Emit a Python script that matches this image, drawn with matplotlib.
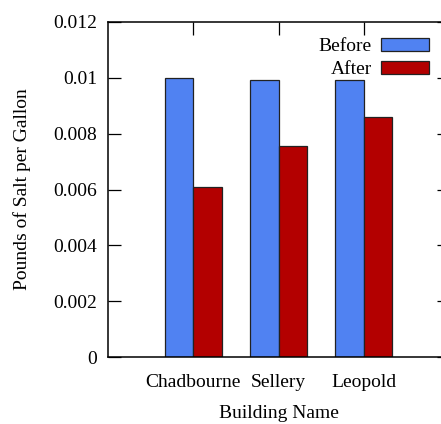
import matplotlib
matplotlib.use("Agg")
import matplotlib.pyplot as plt
import numpy as np

categories = ["Chadbourne", "Sellery", "Leopold"]
before = [0.0100, 0.00992, 0.00993]
after = [0.00608, 0.00756, 0.00858]
series_names = ["Before", "After"]
yticks = [0, 0.002, 0.004, 0.006, 0.008, 0.01, 0.012]
ytick_labels = ["0", "0.002", "0.004", "0.006", "0.008", "0.01", "0.012"]

plt.rcParams['font.family'] = ['Liberation Serif', 'DejaVu Serif']

W, H = 441, 424
fig = plt.figure(figsize=(W / 100, H / 100), dpi=100)
left, right, top, bottom = 108, 449, 22, 357
ax = fig.add_axes([left / W, (H - bottom) / H, (right - left) / W, (bottom - top) / H])

x = np.arange(len(categories))
bw = 1 / 3
blue = '#5082F2'
red = '#B30000'
ax.bar(x - bw / 2, before, width=bw, color=blue, edgecolor='#222222', linewidth=0.9, label=series_names[0])
ax.bar(x + bw / 2, after, width=bw, color=red, edgecolor='#222222', linewidth=0.9, label=series_names[1])

ax.set_xlim(-1, 3)
ax.set_ylim(0, 0.012)
ax.set_yticks(yticks)
ax.set_yticklabels(ytick_labels)
ax.set_xticks(x)
ax.set_xticklabels(categories)
fs = 14
ax.tick_params(axis='both', direction='in', length=9, width=0.9, labelsize=fs,
               top=True, right=True, bottom=False)
ax.tick_params(axis='x', pad=12)
ax.tick_params(axis='y', pad=8)
for s in ax.spines.values():
    s.set_linewidth(1.1)

ax.set_xlabel("Building Name", fontsize=fs, labelpad=10.5)
ax.set_ylabel("Pounds of Salt per Gallon", fontsize=fs, labelpad=16)

leg = ax.legend(loc='upper right', bbox_to_anchor=(0.964, 0.975), frameon=False, fontsize=fs,
                markerfirst=False, handlelength=2.45, handleheight=0.62, handletextpad=0.5,
                labelspacing=0.3, borderaxespad=0)
for t in leg.get_texts():
    t.set_ha('right')

fig.savefig("out.png", dpi=100)
